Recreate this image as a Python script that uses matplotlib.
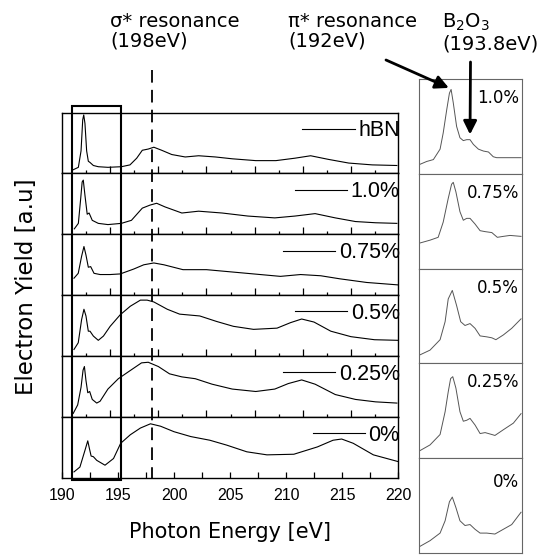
import numpy as np
import matplotlib
matplotlib.use("Agg")
from matplotlib import pyplot as plt
from matplotlib.patches import Rectangle

# ---- main panel spectra (photon energy [eV], normalised yield) ----
e_hbn = [191.0, 191.46, 191.7, 191.85, 191.94, 192.05, 192.2, 192.35, 192.5, 192.8,
         193.24, 194.1, 195.3, 196.07, 196.67, 197.17, 197.7, 198.2, 198.9, 199.8,
         201.0, 202.2, 203.7, 205.2, 207.3, 209.1, 210.8, 212.2, 213.8, 215.6, 217.7, 219.9]
y_hbn = [0.06, 0.10, 0.37, 0.88, 0.96, 0.82, 0.37, 0.20, 0.18, 0.13,
         0.11, 0.10, 0.11, 0.14, 0.25, 0.38, 0.40, 0.43, 0.38, 0.31,
         0.27, 0.29, 0.27, 0.24, 0.21, 0.21, 0.25, 0.29, 0.23, 0.17, 0.14, 0.13]

e_10 = [191.1, 191.46, 191.67, 191.8, 191.9, 192.05, 192.25, 192.42, 192.7, 193.24,
        194.1, 195.3, 196.2, 197.17, 197.86, 198.45, 199.2, 200.7, 202.2, 204.3,
        206.6, 209.0, 210.8, 212.6, 214.4, 216.2, 218.0, 219.9]
y_10 = [0.09, 0.18, 0.59, 0.86, 0.89, 0.64, 0.33, 0.35, 0.23, 0.18,
        0.16, 0.18, 0.23, 0.43, 0.48, 0.51, 0.45, 0.35, 0.38, 0.35,
        0.30, 0.27, 0.30, 0.34, 0.27, 0.21, 0.19, 0.18]

e_075 = [191.07, 191.45, 191.75, 191.96, 192.14, 192.35, 192.56, 192.86, 193.4, 194.3,
         195.2, 196.4, 197.3, 198.2, 199.1, 200.8, 202.9, 205.3, 207.7, 209.5,
         211.3, 213.1, 214.8, 217.2, 220.0]
y_075 = [0.28, 0.36, 0.64, 0.80, 0.66, 0.46, 0.47, 0.36, 0.34, 0.34,
         0.35, 0.43, 0.50, 0.53, 0.50, 0.42, 0.42, 0.38, 0.34, 0.31,
         0.34, 0.32, 0.27, 0.21, 0.17]

e_05 = [191.07, 191.45, 191.75, 191.96, 192.14, 192.35, 192.5, 192.8, 193.24, 193.7,
        194.3, 195.2, 196.1, 197.0, 197.6, 198.2, 199.4, 200.5, 202.3, 203.8,
        205.3, 207.1, 209.2, 210.4, 211.4, 212.5, 214.0, 215.8, 217.9, 220.0]
y_05 = [0.11, 0.22, 0.60, 0.77, 0.66, 0.41, 0.41, 0.33, 0.26, 0.33,
        0.49, 0.68, 0.82, 0.92, 0.92, 0.89, 0.77, 0.69, 0.66, 0.57,
        0.49, 0.44, 0.46, 0.55, 0.61, 0.56, 0.41, 0.32, 0.27, 0.26]

e_025 = [191.0, 191.4, 191.7, 191.88, 192.0, 192.14, 192.3, 192.47, 192.7, 193.1,
         193.4, 194.1, 195.03, 195.9, 197.1, 197.7, 198.6, 199.6, 200.7, 201.9,
         203.4, 205.2, 207.3, 209.0, 210.2, 211.4, 212.6, 214.4, 216.2, 218.0, 219.9]
y_025 = [0.06, 0.20, 0.49, 0.77, 0.83, 0.60, 0.40, 0.42, 0.29, 0.23,
         0.26, 0.46, 0.63, 0.74, 0.89, 0.90, 0.83, 0.71, 0.66, 0.63,
         0.54, 0.46, 0.42, 0.46, 0.55, 0.61, 0.54, 0.37, 0.29, 0.25, 0.23]

e_0 = [191.07, 191.6, 192.06, 192.3, 192.44, 192.6, 192.8, 193.1, 193.84, 194.6,
       195.24, 196.1, 197.0, 197.9, 198.8, 200.0, 201.5, 203.2, 204.7, 206.5,
       208.3, 210.7, 212.8, 214.2, 214.97, 216.0, 217.8, 220.0]
y_0 = [0.10, 0.18, 0.46, 0.61, 0.49, 0.36, 0.35, 0.29, 0.21, 0.32,
       0.57, 0.71, 0.82, 0.89, 0.85, 0.76, 0.68, 0.62, 0.54, 0.43,
       0.38, 0.39, 0.51, 0.62, 0.64, 0.57, 0.38, 0.27]

main_labels = ["hBN", "1.0%", "0.75%", "0.5%", "0.25%", "0%"]

# ---- zoomed pi* region (right column) ----
ze_10 = [191.04, 191.32, 191.6, 191.88, 192.01, 192.16, 192.27, 192.34, 192.43, 192.57,
         192.71, 192.85, 192.99, 193.13, 193.27, 193.48, 193.69, 193.9, 194.1, 194.24,
         194.66, 195.26]
zy_10 = [0.10, 0.13, 0.15, 0.26, 0.43, 0.68, 0.85, 0.89, 0.75, 0.50,
         0.38, 0.35, 0.36, 0.36, 0.31, 0.26, 0.24, 0.23, 0.18, 0.17,
         0.17, 0.17]
ze_075 = [191.04, 191.46, 191.8, 192.01, 192.22, 192.36, 192.43, 192.54, 192.71, 192.85,
          192.99, 193.13, 193.34, 193.55, 193.76, 194.04, 194.27, 194.52, 194.8, 195.26]
zy_075 = [0.27, 0.30, 0.33, 0.49, 0.74, 0.89, 0.91, 0.81, 0.60, 0.51,
          0.53, 0.53, 0.47, 0.40, 0.39, 0.38, 0.33, 0.34, 0.35, 0.34]
ze_05 = [191.04, 191.46, 191.88, 192.09, 192.22, 192.39, 192.57, 192.74, 192.92, 193.13,
         193.34, 193.55, 193.83, 194.04, 194.21, 194.52, 194.87, 195.26]
zy_05 = [0.09, 0.14, 0.25, 0.44, 0.68, 0.77, 0.61, 0.44, 0.40, 0.42,
         0.37, 0.29, 0.28, 0.27, 0.25, 0.30, 0.37, 0.47]
ze_025 = [191.04, 191.46, 191.88, 192.09, 192.22, 192.32, 192.41, 192.54, 192.71, 192.85,
          192.99, 193.13, 193.34, 193.55, 193.76, 194.04, 194.17, 194.52, 194.94, 195.26]
zy_025 = [0.08, 0.14, 0.25, 0.49, 0.70, 0.84, 0.86, 0.74, 0.49, 0.39,
          0.40, 0.42, 0.35, 0.26, 0.27, 0.25, 0.24, 0.30, 0.37, 0.47]
ze_0 = [191.04, 191.46, 191.88, 192.09, 192.27, 192.39, 192.54, 192.71, 192.92, 193.13,
        193.34, 193.55, 193.83, 194.17, 194.52, 194.87, 195.26]
zy_0 = [0.07, 0.13, 0.21, 0.34, 0.54, 0.59, 0.48, 0.34, 0.29, 0.30,
        0.25, 0.21, 0.21, 0.20, 0.25, 0.30, 0.43]

zoom_labels = ["1.0%", "0.75%", "0.5%", "0.25%", "0%"]

main_series = [(e_hbn, y_hbn), (e_10, y_10), (e_075, y_075),
               (e_05, y_05), (e_025, y_025), (e_0, y_0)]
zoom_series = [(ze_10, zy_10), (ze_075, zy_075), (ze_05, zy_05),
               (ze_025, zy_025), (ze_0, zy_0)]

W = H = 555
fig = plt.figure(figsize=(5.55, 5.55), dpi=100)


def px_axes(x0, y0, x1, y1, **kw):
    # rectangle given in image pixels (origin top-left)
    return fig.add_axes([x0 / W, 1 - y1 / H, (x1 - x0) / W, (y1 - y0) / H], **kw)


arial = "Liberation Sans"
left, right = 62, 398
top, bottom = 112.5, 478
ph = (bottom - top) / 6

for i, ((e, y), lab) in enumerate(zip(main_series, main_labels)):
    ax = px_axes(left, top + i * ph, right, top + (i + 1) * ph)
    ax.plot(e, y, color="k", lw=0.8, label=lab)
    ax.set_xlim(190, 220)
    ax.set_ylim(0, 1)
    ax.set_yticks([])
    for s in ax.spines.values():
        s.set_linewidth(1.0)
    if i < 5:
        major = 190 + 2.15 * np.arange(2, 14, 2)
        minor = 190 + 2.15 * np.arange(1, 14, 2)
        ax.set_xticks(major)
        ax.set_xticks(minor, minor=True)
        ax.tick_params(axis="x", which="major", direction="in", length=5, width=0.9, labelbottom=False)
        ax.tick_params(axis="x", which="minor", direction="in", length=2.5, width=0.9)
    else:
        ax.set_xticks(np.arange(190, 221, 5))
        ax.set_xticks(np.arange(192.5, 220, 5), minor=True)
        ax.tick_params(axis="x", which="major", direction="in", length=4.5, width=0.9, pad=7)
        ax.tick_params(axis="x", which="minor", direction="in", length=4, width=0.9)
        for t in ax.get_xticklabels():
            t.set_fontfamily(arial)
            t.set_fontsize(11.5)
        ax.set_xlabel("Photon Energy [eV]", fontsize=15, labelpad=14)
    ax.legend(loc="center right", bbox_to_anchor=(1.005, 0.70), frameon=False,
              handlelength=2.45, handletextpad=0.15, borderpad=0, borderaxespad=0,
              prop={"family": arial, "size": 15.5})

# overlay for the dashed sigma* line and the boxed pi* region
ov = px_axes(left, 0, right, H)
ov.set_xlim(190, 220)
ov.set_ylim(H, 0)
ov.axis("off")
ov.plot([198, 198], [70, bottom], color="k", lw=1.3, ls=(0, (7, 4)))
ov.add_patch(Rectangle((190.92, 106), 195.27 - 190.92, 374, fill=False, ec="k", lw=1.5))

# zoomed column
zl, zr = 419, 522
ztop, zbot = 79, 553
zh = (zbot - ztop) / 5
zaxes = []
for i, ((e, y), lab) in enumerate(zip(zoom_series, zoom_labels)):
    ax = px_axes(zl, ztop + i * zh, zr, ztop + (i + 1) * zh)
    ax.plot(e, y, color="#555555", lw=0.7)
    ax.set_xlim(191.0, 195.3)
    ax.set_ylim(0, 1)
    ax.set_xticks([])
    ax.set_yticks([])
    for s in ax.spines.values():
        s.set_linewidth(0.8)
        s.set_edgecolor("#666666")
    ax.text(0.97, 0.75 if lab == "0%" else 0.80, lab, transform=ax.transAxes,
            ha="right", va="center", fontsize=12)
    zaxes.append(ax)

# annotations
fig.text(110 / W, 1 - 12 / H, "σ* resonance\n(198eV)", ha="left", va="top",
         fontsize=14, linespacing=1.05)
fig.text(288 / W, 1 - 12 / H, "π* resonance\n(192eV)", ha="left", va="top",
         fontsize=14, linespacing=1.05)
fig.text(442 / W, 1 - 12 / H, "B$_2$O$_3$\n(193.8eV)", ha="left", va="top",
         fontsize=14, linespacing=1.05)
fig.text(27 / W, 1 - 287 / H, "Electron Yield [a.u]", rotation=90,
         ha="center", va="center", fontsize=16.5)

arrow = dict(arrowstyle="-|>", color="k", lw=2.0, mutation_scale=20, shrinkA=0, shrinkB=1)
zaxes[0].annotate("", xy=(192.3, 0.90), xytext=(386, H - 60), textcoords="figure pixels",
                  arrowprops=arrow, annotation_clip=False)
zaxes[0].annotate("", xy=(193.13, 0.40), xytext=(470.5, H - 62), textcoords="figure pixels",
                  arrowprops=arrow, annotation_clip=False)

fig.savefig("out.png", dpi=100)
